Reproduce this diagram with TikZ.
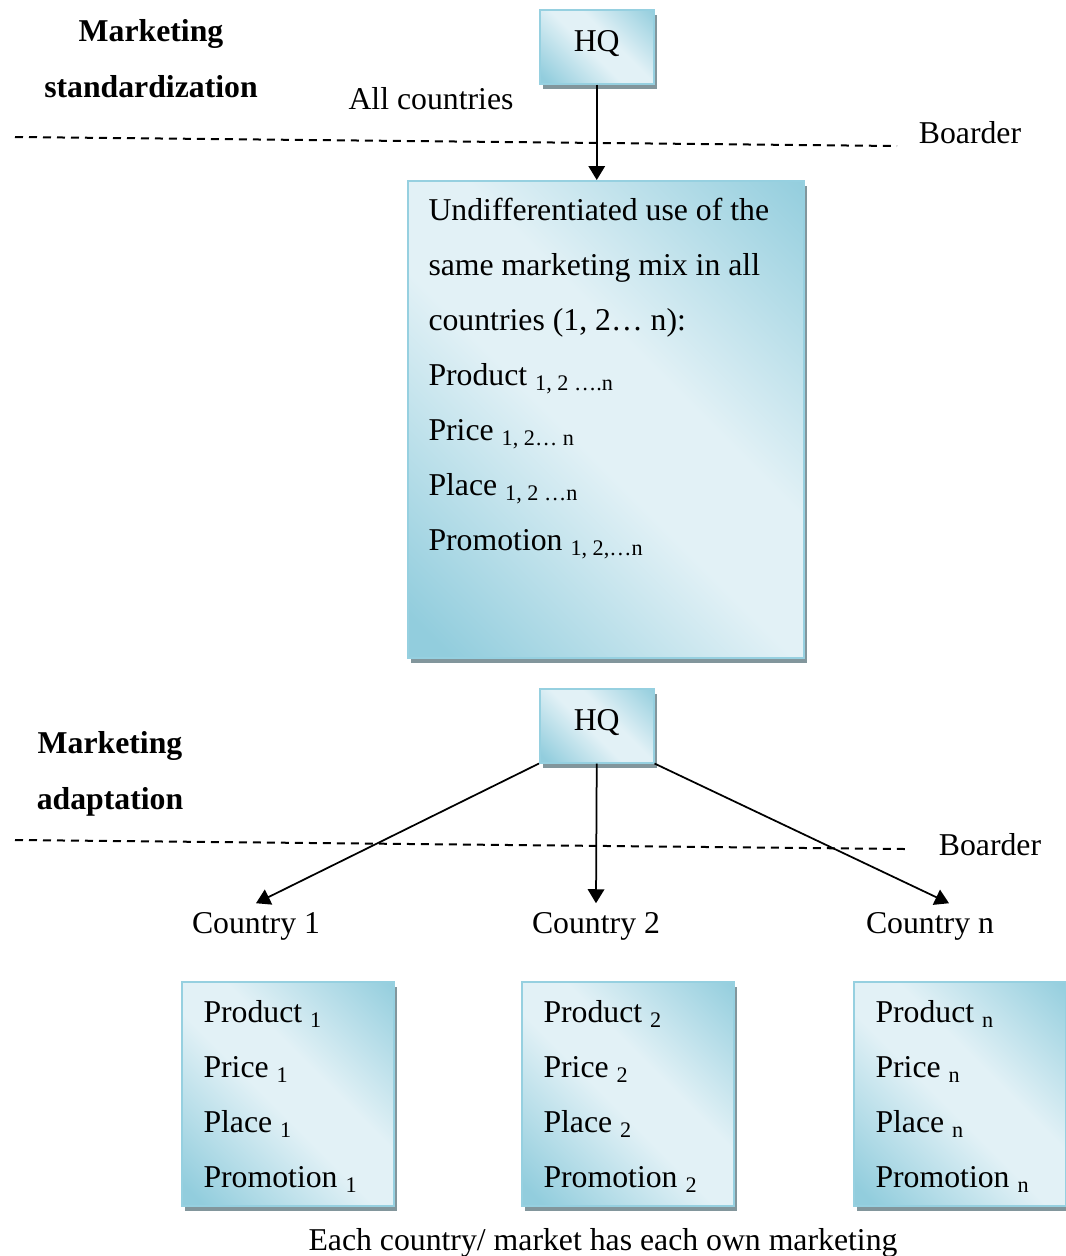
\documentclass[tikz,border=0pt]{standalone}
\usepackage{fontspec}
\setmainfont{Liberation Serif}
\usetikzlibrary{arrows.meta, positioning, shadows}

\definecolor{boxdark}{RGB}{146,205,221}
\definecolor{boxlight}{RGB}{226,241,246}
\definecolor{boxedge}{RGB}{150,208,224}
\definecolor{shadowgray}{RGB}{130,150,156}
\pgfdeclarehorizontalshading{mixshade}{100bp}{color(0bp)=(boxdark);
  color(18bp)=(boxdark); color(46bp)=(boxlight); color(58bp)=(boxlight);
  color(86bp)=(boxdark); color(100bp)=(boxdark)}

\begin{document}
\begin{tikzpicture}[
    x=0.4pt, y=-0.4pt,
    txt/.style={font=\fontsize{12.7pt}{22pt}\selectfont},
    head/.style={font=\fontsize{12.7pt}{22.4pt}\selectfont\bfseries,
                 align=center},
    mixbox/.style={rectangle, draw=boxedge, line width=0.6pt, shade,
                   shading=mixshade, shading angle=45, anchor=north west,
                   general shadow={fill=shadowgray, shadow xshift=1.2pt,
                                   shadow yshift=-2pt}},
    hqbox/.style={mixbox, txt, minimum width=45.6pt, minimum height=29.6pt,
                  text height=8.6pt, text depth=5pt},
    mixlist/.style={txt, align=left, inner sep=0pt, anchor=north west},
    arrow/.style={-{Triangle[length=5.6pt, width=6.6pt]}, line width=0.7pt},
    boarder/.style={dash pattern=on 3.2pt off 2.4pt, line width=0.8pt}
  ]
  \useasboundingbox (0, 0) rectangle (1066, 1256);

  % standardization
  \node[head] (stdTitle) at (151, 59) {Marketing\\ standardization};
  \node[hqbox] (hqTop) at (539, 9) {HQ};
  \node[txt] (allLabel) at (431, 99) {All countries};
  \node[txt] (boarderTop) at (970, 133) {Boarder};
  \coordinate (lineTopL) at (15, 137);
  \coordinate (lineTopR) at (897, 146);
  \draw[boarder] (lineTopL) -- (lineTopR);

  \node[mixbox, minimum width=158.4pt, minimum height=190.8pt] (bigMix)
    at (407, 180) {};
  \node[mixlist] (bigMixText) at (428, 198) {Undifferentiated use of the\\
    same marketing mix in all\\ countries (1, 2… n):\\
    Product \textsubscript{1, 2 ….n}\\ Price \textsubscript{1, 2… n}\\
    Place \textsubscript{1, 2 …n}\\ Promotion \textsubscript{1, 2,…n}};
  \draw[arrow] (hqTop.south) -- (hqTop.south |- bigMix.north);

  % adaptation
  \node[head] (adaTitle) at (110, 774) {Marketing\\ adaptation};
  \node[hqbox] (hqBottom) at (539, 688) {HQ};
  \node[txt] (boarderBottom) at (990, 845) {Boarder};
  \coordinate (lineBotL) at (15, 840);
  \coordinate (lineBotR) at (905, 849);
  \draw[boarder] (lineBotL) -- (lineBotR);

  \node[txt] (country1) at (256, 926) {Country 1};
  \node[txt] (country2) at (596, 926) {Country 2};
  \node[txt] (countryN) at (930, 926) {Country n};
  \draw[arrow] (hqBottom.south west) -- (country1.north);
  \draw[arrow] (hqBottom.south) -- (country2.north);
  \draw[arrow] (hqBottom.south east) -- ([xshift=7.6pt]countryN.north);

  \node[mixbox, minimum width=84.8pt, minimum height=89.6pt] (mix1)
    at (181, 981) {};
  \node[mixlist] (mix1Text) at (203, 1000) {Product \textsubscript{1}\\
    Price \textsubscript{1}\\ Place \textsubscript{1}\\
    Promotion \textsubscript{1}};
  \node[mixbox, minimum width=84.8pt, minimum height=89.6pt] (mix2)
    at (521, 981) {};
  \node[mixlist] (mix2Text) at (543, 1000) {Product \textsubscript{2}\\
    Price \textsubscript{2}\\ Place \textsubscript{2}\\
    Promotion \textsubscript{2}};
  \node[mixbox, minimum width=84.8pt, minimum height=89.6pt] (mixN)
    at (853, 981) {};
  \node[mixlist] (mixNText) at (875, 1000) {Product \textsubscript{n}\\
    Price \textsubscript{n}\\ Place \textsubscript{n}\\
    Promotion \textsubscript{n}};

  \node[txt] (caption) at (603, 1243)
    {Each country/ market has each own marketing};
\end{tikzpicture}
\end{document}
